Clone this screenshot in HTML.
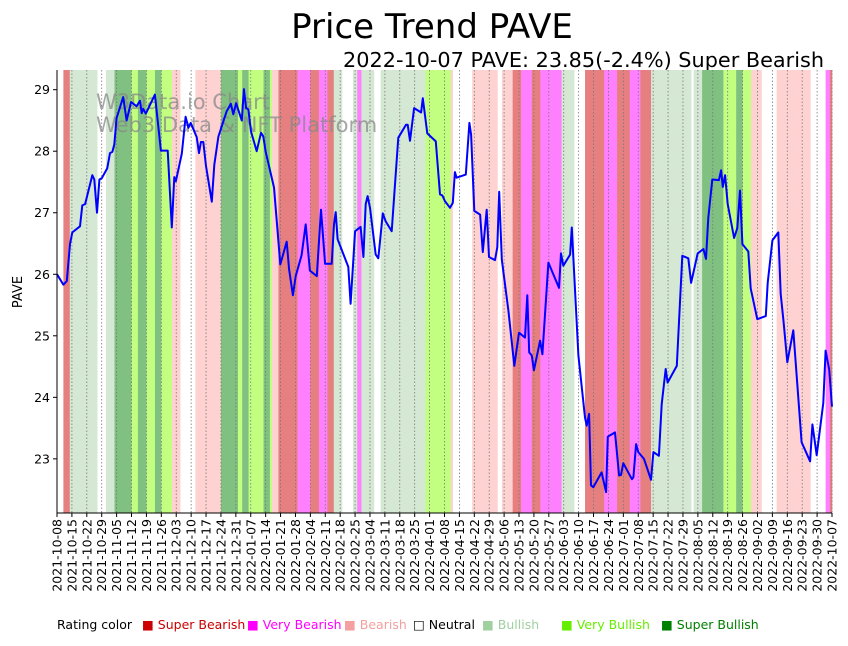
<!DOCTYPE html>
<html><head><meta charset="utf-8"><style>
body{margin:0;background:#fff;width:848px;height:641px;overflow:hidden;font-family:"Liberation Sans","DejaVu Sans",sans-serif}
svg text{font-family:"DejaVu Sans","Liberation Sans",sans-serif}
</style></head><body>
<svg id="chart" width="848" height="641" xmlns="http://www.w3.org/2000/svg">
<text x="432" y="38" font-size="34" text-anchor="middle">Price Trend PAVE</text>
<text x="824" y="67" font-size="20.8" text-anchor="end">2022-10-07 PAVE: 23.85(-2.4%) Super Bearish</text>
<g id="bands"></g>
<g id="grid"></g>
<text x="96" y="109" font-size="21" fill="#888" fill-opacity="0.75">W3Data.io Chart</text>
<text x="96" y="132" font-size="21" fill="#888" fill-opacity="0.75">Web3 Data &amp; NFT Platform</text>
<path id="line" fill="none" stroke="#0000ff" stroke-width="2" stroke-linejoin="round"/>
<g id="axes"></g>
<text transform="translate(22,292) rotate(-90)" font-size="13" text-anchor="middle">PAVE</text>
<g font-size="12.5">
<text x="57" y="629">Rating color</text>
<text x="142" y="629" fill="#cc0000">■ Super Bearish</text>
<text x="247" y="629" fill="#ff00ff">■ Very Bearish</text>
<text x="344" y="629" fill="#f4a0a0">■ Bearish</text>
<text x="413" y="629" fill="#000">□ Neutral</text>
<text x="482" y="629" fill="#a0d0a0">■ Bullish</text>
<text x="561" y="629" fill="#66ee00">■ Very Bullish</text>
<text x="661" y="629" fill="#008000">■ Super Bullish</text>
</g>
</svg>
<script>
const bandStarts=[0,3,6,19,23,27,35,38,42,46,49,54,58,65,77,85,87,90,97,100,101,104,113,119,123,127,130,134,139,141,143,149,152,173,185,186,195,207,209,214,218,223,227,237,243,248,257,263,269,274,279,298,299,303,313,319,322,326,331,338,354,361,363];
const bandRatings=[3,0,4,3,4,6,5,6,5,6,5,2,3,2,6,5,6,5,6,5,2,0,1,0,1,0,4,3,4,1,4,3,4,5,2,3,2,3,2,0,1,0,1,4,3,0,1,0,1,0,4,3,4,6,5,6,5,2,3,2,3,1,0];
const priceDays=[0,3.0,4.6,6.1,7.2,10.8,11.9,13.2,16.6,17.5,18.8,19.9,21.0,23.6,24.9,26.0,26.9,28.0,31.1,32.7,34.8,37.4,39.0,39.8,40.5,41.7,46.0,48.8,52.0,53.9,55.1,55.8,58.6,60.4,61.7,62.8,65.6,66.7,67.6,68.7,70.0,72.7,73.9,75.8,79.7,81.7,82.8,84.1,86.8,87.8,88.8,89.9,91.1,93.8,95.8,96.9,98.0,101.9,104.9,107.9,109.0,110.8,112.1,114.9,116.8,118.8,122.0,124.0,125.9,129.0,130.1,130.9,131.8,136.8,137.9,140.0,142.6,143.9,145.0,145.9,147.0,149.7,150.9,153.0,154.4,157.2,160.3,163.9,164.7,165.8,167.7,171.0,171.8,173.9,177.9,179.9,181.0,182.2,184.6,185.9,186.9,187.7,192.0,193.7,194.5,196.0,198.7,200.0,201.8,202.9,205.7,206.8,207.7,208.9,212.0,214.8,217.0,219.8,220.9,221.8,223.0,224.0,226.9,228.0,230.8,235.8,236.7,237.8,241.0,241.8,244.9,248.0,248.8,249.9,250.8,251.9,255.8,257.9,258.7,262.1,264.0,264.9,266.0,270.0,270.7,272.0,273.0,275.7,279.0,280.1,282.7,284.0,285.9,286.8,291.1,293.7,296.5,297.8,300.9,303.6,304.8,305.9,307.8,310.9,311.9,312.7,313.8,315.0,318.0,319.5,320.8,321.9,324.7,325.8,328.9,332.9,333.8,336.0,338.8,339.9,341.2,343.0,345.8,349.7,353.7,354.8,356.8,359.9,361.0,362.7,364];
const priceValues=[26.0,25.83,25.89,26.49,26.68,26.78,27.12,27.14,27.61,27.54,27.0,27.54,27.56,27.72,27.97,27.99,28.11,28.54,28.88,28.5,28.8,28.73,28.82,28.62,28.69,28.61,28.92,28.01,28.01,26.76,27.58,27.51,27.96,28.56,28.38,28.46,28.23,27.97,28.15,28.15,27.76,27.18,27.78,28.24,28.65,28.77,28.6,28.78,28.5,29.01,28.70,28.68,28.32,28.0,28.30,28.24,27.99,27.41,26.16,26.53,26.08,25.66,25.97,26.31,26.81,26.06,25.97,27.05,26.17,26.17,26.81,27.01,26.57,26.12,25.52,26.70,26.77,26.28,27.14,27.27,27.08,26.32,26.26,26.99,26.86,26.70,28.22,28.43,28.43,28.17,28.70,28.63,28.86,28.29,28.16,27.30,27.28,27.19,27.08,27.16,27.66,27.57,27.62,28.46,28.27,27.03,26.97,26.36,27.05,26.28,26.23,26.44,27.34,26.24,25.41,24.51,25.05,24.97,25.66,24.73,24.68,24.44,24.92,24.70,26.19,25.78,26.34,26.14,26.32,26.76,24.68,23.67,23.54,23.73,22.57,22.54,22.78,22.46,23.36,23.43,22.73,22.74,22.93,22.67,22.70,23.24,23.11,23.0,22.66,23.11,23.05,23.89,24.46,24.24,24.51,26.30,26.26,25.86,26.34,26.41,26.25,26.92,27.54,27.53,27.69,27.42,27.61,27.14,26.59,26.75,27.36,26.49,26.37,25.77,25.27,25.32,25.86,26.55,26.68,25.68,25.24,24.57,25.09,23.27,22.96,23.56,23.06,23.91,24.76,24.45,23.85];
const yTicks=[23,24,25,26,27,28,29];
const startDate="2021-10-08";const totalDays=364;const tickStep=7;
const bandColors=["#e67f7f","#ff80ff","#ffd2d2","#ffffff","#d5e8d4","#c2ff80","#80c080"];
const L=57,R=832,T=70,B=513,Y0=22.12,Y1=29.32;
const NS="http://www.w3.org/2000/svg";
function X(d){return L+(d/totalDays)*(R-L);}
function Y(v){return B-(v-Y0)/(Y1-Y0)*(B-T);}
function mk(t,a,p){const e=document.createElementNS(NS,t);for(const k in a)e.setAttribute(k,a[k]);p.appendChild(e);return e;}
const bands=document.getElementById('bands');
for(let i=0;i<bandStarts.length;i++){
 const s=bandStarts[i],e=i+1<bandStarts.length?bandStarts[i+1]:totalDays;
 const r=mk('rect',{x:X(s),y:T,width:X(e)-X(s)+0.3,height:B-T,fill:bandColors[bandRatings[i]]},bands);
 
 
}
const grid=document.getElementById('grid'),axes=document.getElementById('axes');
const sd=new Date(startDate+"T00:00:00Z");
for(let d=0;d<=totalDays;d+=tickStep){
 const x=X(d);
 const g=mk('line',{x1:x,x2:x,y1:T,y2:B,stroke:'#777','stroke-width':0.8,'stroke-dasharray':'1.5,2'},grid);
 
 
 mk('line',{x1:x,x2:x,y1:B,y2:B+4,stroke:'#000'},axes);
 const dt=new Date(sd.getTime()+d*86400000);
 const t=mk('text',{transform:`translate(${x+4.5},${B+6}) rotate(-90)`,'font-size':12.5,'text-anchor':'end'},axes);
 t.textContent=dt.toISOString().slice(0,10);
 
 
}
yTicks.forEach(v=>{
 const y=Y(v);
 mk('line',{x1:L-4,x2:L,y1:y,y2:y,stroke:'#000'},axes);
 const t=mk('text',{x:L-7,y:y+4.5,'font-size':12.5,'text-anchor':'end'},axes);
 t.textContent=v;
 
 
});
mk('line',{x1:L,x2:L,y1:T,y2:B,stroke:'#000','stroke-width':1},axes);
mk('line',{x1:L,x2:R,y1:B,y2:B,stroke:'#000','stroke-width':1},axes);
let p='';
for(let i=0;i<priceDays.length;i++)p+=(i?'L':'M')+X(priceDays[i]).toFixed(1)+','+Y(priceValues[i]).toFixed(1);
document.getElementById('line').setAttribute('d',p);
</script>
</body></html>
